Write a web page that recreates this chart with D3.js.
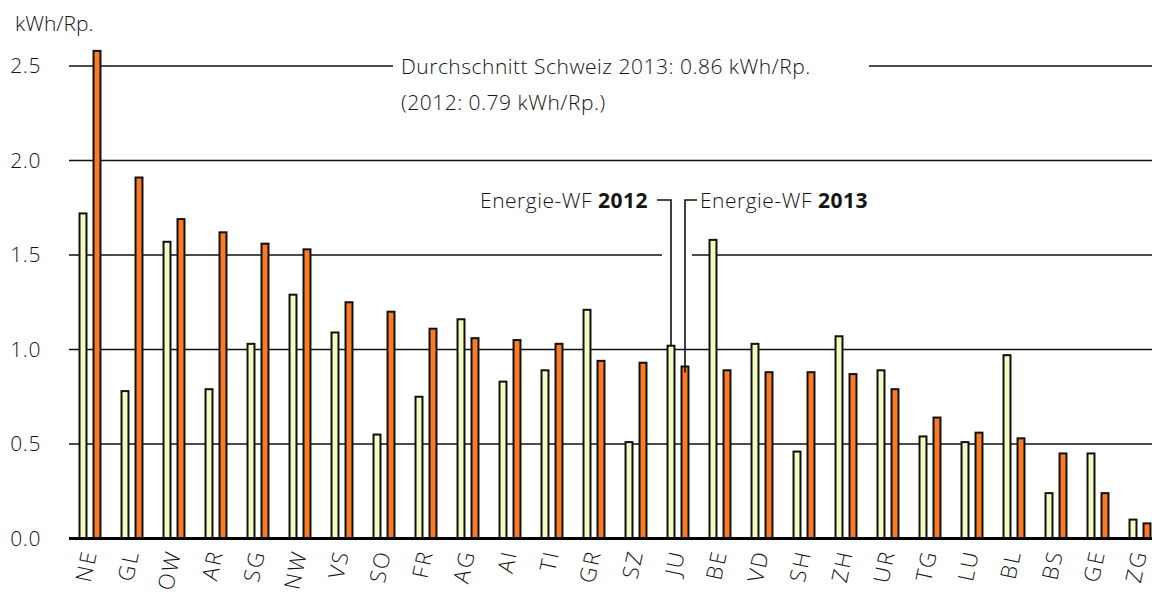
<!DOCTYPE html>
<html>
<head>
<meta charset="utf-8">
<script src="https://cdn.jsdelivr.net/npm/d3@7"></script>
<style>
  body { margin: 0; background: #fff; }
  svg { display: block; font-family: "Open Sans", "Noto Sans", sans-serif; font-weight: 300; }
</style>
</head>
<body>
<svg id="chart" width="1152" height="592"></svg>
<script>
(() => {
    // Energie-WF per canton, kWh per Rappen
    const cantons = ["NE", "GL", "OW", "AR", "SG", "NW", "VS", "SO", "FR", "AG", "AI", "TI", "GR",
        "SZ", "JU", "BE", "VD", "SH", "ZH", "UR", "TG", "LU", "BL", "BS", "GE", "ZG"];
    const wf2012 = [1.72, 0.78, 1.57, 0.79, 1.03, 1.29, 1.09, 0.55, 0.75, 1.16, 0.83, 0.89, 1.21,
        0.51, 1.02, 1.58, 1.03, 0.46, 1.07, 0.89, 0.54, 0.51, 0.97, 0.24, 0.45, 0.10];
    const wf2013 = [2.58, 1.91, 1.69, 1.62, 1.56, 1.53, 1.25, 1.20, 1.11, 1.06, 1.05, 1.03, 0.94,
        0.93, 0.91, 0.89, 0.88, 0.88, 0.87, 0.79, 0.64, 0.56, 0.53, 0.45, 0.24, 0.08];
    const years = ["2012", "2013"];
    const yTicks = [0, 0.5, 1.0, 1.5, 2.0, 2.5];

    const svg = d3.select("#chart");
    const W = +svg.attr("width");
    const left = 69, step = 42;
    const fs = 21, ink = "#141414";

    const x = d3.scaleBand().domain(cantons).range([left, left + step * cantons.length]);
    const xSub = d3.scaleBand().domain(years).range([0, step]).paddingInner(0.36).paddingOuter(0.68);
    const y = d3.scaleLinear().domain([0, 2.5]).range([538.5, 66]);

    const colors = { "2012": "#f3fbc0", "2013": "#fb7a25" };

    // gridlines, some interrupted for the annotations
    const gaps = { "2.5": [393, 869], "1.5": [662, 692] };
    const grid = svg.append("g");
    yTicks.filter(d => d > 0).forEach(d => {
        const g = gaps[d.toFixed(1)];
        const segs = g ? [[left, g[0]], [g[1], W]] : [[left, W]];
        segs.forEach(s => grid.append("line")
            .attr("x1", s[0]).attr("x2", s[1])
            .attr("y1", y(d)).attr("y2", y(d))
            .attr("stroke", "#111").attr("stroke-width", 1.6));
    });

    // y tick labels
    const yAxis = svg.append("g")
        .attr("transform", `translate(${left},0)`)
        .call(d3.axisLeft(y).tickValues(yTicks).tickFormat(d3.format(".1f")).tickSize(0).tickPadding(28));
    yAxis.select(".domain").remove();
    yAxis.selectAll("text").attr("font-size", fs).attr("fill", ink)
        .attr("letter-spacing", 0.6)
        .attr("font-family", "Open Sans, Noto Sans, sans-serif").attr("font-weight", 300);

    svg.append("text").attr("x", 15).attr("y", 31)
        .attr("font-size", fs).attr("fill", ink).text("kWh/Rp.");

    // bars
    const rows = cantons.map((c, i) => ({ canton: c, values: [
        { year: "2012", v: wf2012[i] }, { year: "2013", v: wf2013[i] }] }));

    svg.append("g").selectAll("g")
        .data(rows).join("g")
        .attr("transform", d => `translate(${x(d.canton)},0)`)
        .selectAll("rect")
        .data(d => d.values).join("rect")
        .attr("x", d => xSub(d.year) + 1)
        .attr("width", xSub.bandwidth() - 2)
        .attr("y", d => y(d.v))
        .attr("height", d => y(0) - y(d.v))
        .attr("fill", d => colors[d.year])
        .attr("stroke", "#111").attr("stroke-width", 2);

    // baseline
    svg.append("line")
        .attr("x1", left).attr("x2", W)
        .attr("y1", y(0)).attr("y2", y(0))
        .attr("stroke", "#000").attr("stroke-width", 2.8);

    // category labels
    svg.append("g").selectAll("text")
        .data(cantons).join("text")
        .attr("transform", d => `translate(${x(d) + step / 2 - 7},549) rotate(-78)`)
        .attr("text-anchor", "end")
        .attr("dy", "0.66em")
        .attr("font-size", 22).attr("letter-spacing", 2).attr("fill", ink)
        .text(d => d);

    // averages annotation
    svg.append("text").attr("x", 401).attr("y", 74).attr("font-size", fs).attr("fill", ink)
        .attr("letter-spacing", 0.5)
        .text("Durchschnitt Schweiz 2013: 0.86 kWh/Rp.");
    svg.append("text").attr("x", 401).attr("y", 110).attr("font-size", fs).attr("fill", ink)
        .attr("letter-spacing", 0.5)
        .text("(2012: 0.79 kWh/Rp.)");

    // Energie-WF leaders pointing to JU
    const ju = cantons.indexOf("JU");
    const cx12 = x("JU") + xSub("2012") + xSub.bandwidth() / 2;
    const cx13 = x("JU") + xSub("2013") + xSub.bandwidth() / 2;
    const leadY = 200;
    svg.append("path")
        .attr("d", `M${cx12 - 14},${leadY}H${cx12}V${y(wf2012[ju])}`)
        .attr("fill", "none").attr("stroke", "#111").attr("stroke-width", 1.6);
    svg.append("path")
        .attr("d", `M${cx13 + 12},${leadY}H${cx13}V${y(wf2013[ju]) + 6}`)
        .attr("fill", "none").attr("stroke", "#111").attr("stroke-width", 1.6);

    const t12 = svg.append("text").attr("x", cx12 - 23).attr("y", 208)
        .attr("text-anchor", "end").attr("font-size", fs).attr("fill", ink)
        .attr("letter-spacing", 0.5);
    t12.append("tspan").text("Energie-WF ");
    t12.append("tspan").attr("font-weight", "bold").text("2012");

    const t13 = svg.append("text").attr("x", cx13 + 15).attr("y", 208)
        .attr("font-size", fs).attr("fill", ink).attr("letter-spacing", 0.5);
    t13.append("tspan").text("Energie-WF ");
    t13.append("tspan").attr("font-weight", "bold").text("2013");
})();
</script>
</body>
</html>
